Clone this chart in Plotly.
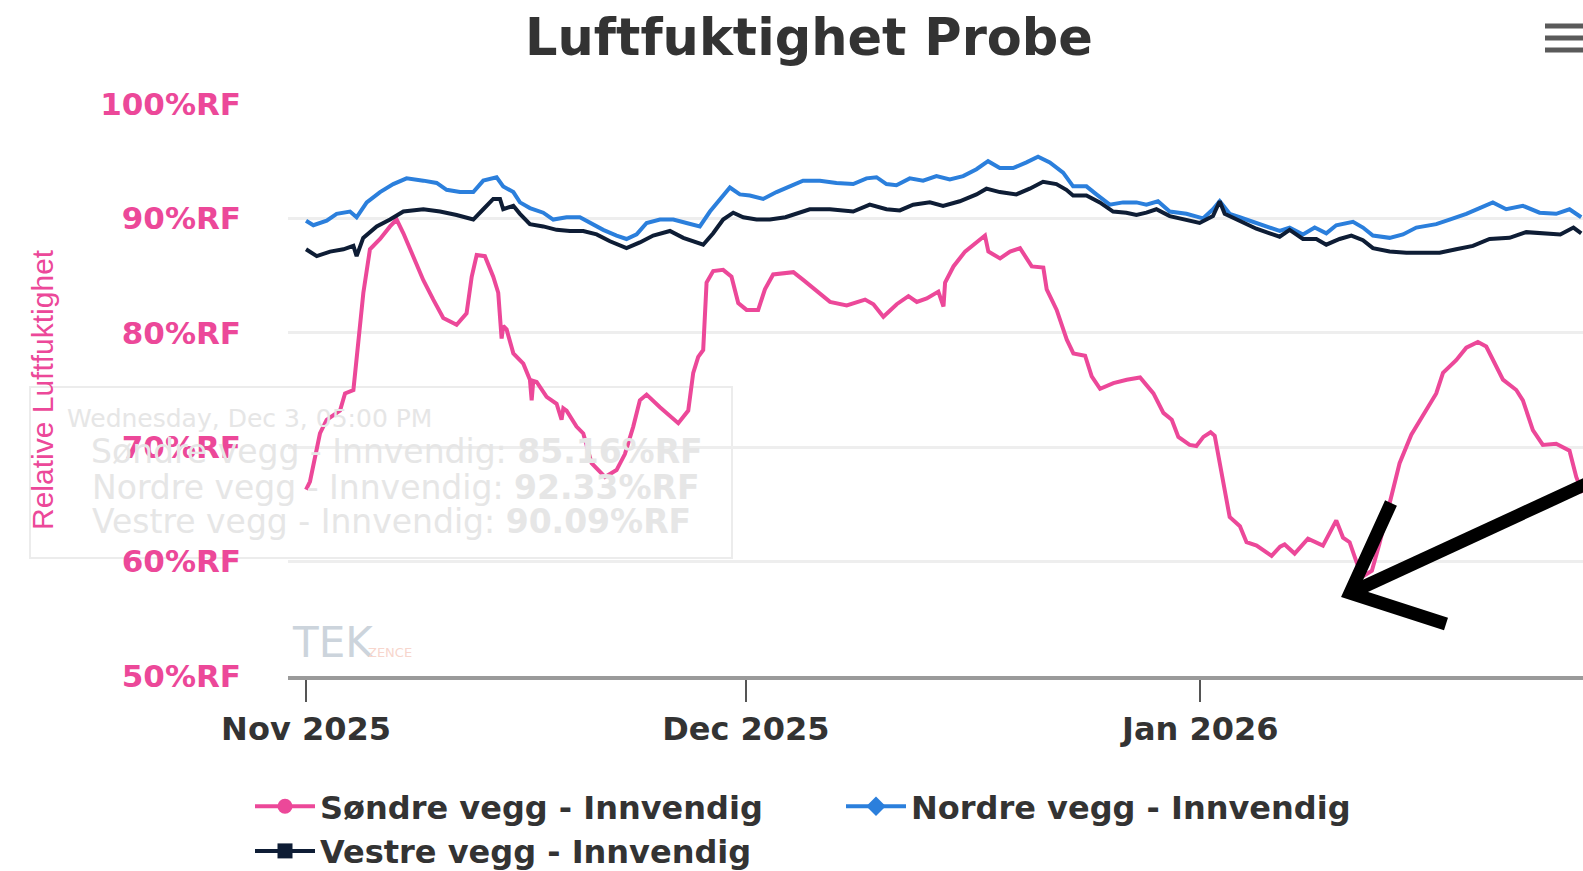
import plotly.graph_objects as go
import pandas as pd

# Luftfuktighet (%RF) pr. probe, lest av grafen. Tid = dager etter 1. nov 2025
start = pd.Timestamp("2025-11-01")

sondre_days = [0.0, 0.27, 0.95, 1.41, 2.32, 2.66, 3.23, 3.57, 3.91, 4.36, 5.05, 5.73, 6.18, 6.64,
               7.32, 8.0, 8.68, 9.36, 10.27, 10.95, 11.3, 11.64, 12.2, 12.77, 13.11, 13.34, 13.45,
               13.68, 14.14, 14.82, 15.27, 15.39, 15.5, 15.73, 16.41, 17.09, 17.43, 17.55, 17.77,
               18.45, 18.91, 19.48, 20.39, 21.18, 21.75, 22.32, 22.77, 23.23, 24.14, 25.39, 26.07,
               26.41, 26.75, 27.09, 27.32, 27.77, 28.45, 29.02, 29.48, 30.05, 30.84, 31.3, 31.86,
               32.7, 33.24, 33.93, 34.61, 35.74, 36.88, 38.13, 38.7, 39.38, 40.29, 41.09, 41.66,
               42.34, 43.13, 43.48, 43.59, 44.16, 44.95, 45.75, 46.31, 46.54, 47.34, 48.02, 48.7,
               49.5, 50.29, 50.52, 51.2, 51.89, 52.34, 53.14, 53.59, 54.16, 55.07, 55.98, 56.89,
               57.8, 58.48, 59.05, 59.5, 60.27, 60.73, 61.21, 61.7, 61.98, 62.12, 62.56, 63.0,
               63.7, 64.15, 64.84, 65.86, 66.44, 66.75, 67.43, 68.34, 69.36, 70.27, 70.73, 71.18,
               71.75, 72.2, 72.7, 73.2, 73.91, 74.59, 75.39, 76.18, 77.09, 77.55, 78.45, 79.14,
               79.93, 80.5, 81.07, 81.64, 82.55, 83.0, 83.68, 84.36, 85.27, 86.18, 86.64, 87.07]
sondre_vals = [66.3, 67.0, 71.2, 72.4, 73.2, 74.7, 75.0, 79.1, 83.5, 87.3, 88.2, 89.3, 89.9, 88.7,
               86.7, 84.6, 82.9, 81.3, 80.7, 81.7, 84.9, 86.8, 86.7, 84.9, 83.5, 79.5, 80.6,
               80.3, 78.2, 77.3, 75.9, 74.1, 75.8, 75.7, 74.4, 73.8, 72.4, 73.4, 73.2,
               71.8, 71.2, 68.6, 67.4, 68.0, 69.4, 71.8, 74.1, 74.6, 73.5, 72.1, 73.2,
               76.5, 77.9, 78.5, 84.4, 85.4, 85.5, 84.9, 82.6, 82.0, 82.0, 83.8, 85.1,
               85.2, 85.3, 84.6, 83.9, 82.7, 82.4, 82.9, 82.5, 81.4, 82.5, 83.2, 82.7,
               83.0, 83.6, 82.3, 84.4, 85.8, 87.1, 87.9, 88.5, 87.1, 86.5, 87.1, 87.4,
               85.8, 85.7, 83.8, 82.0, 79.4, 78.2, 78.0, 76.2, 75.1, 75.6, 75.9, 76.1,
               74.7, 73.0, 72.4, 70.9, 70.2, 70.1, 70.9, 71.3, 71.0, 70.0, 67.0, 63.9,
               63.1, 61.7, 61.4, 60.5, 61.3, 61.5, 60.7, 62.0, 61.4, 63.6, 62.1, 61.7,
               59.6, 58.8, 59.2, 61.5, 65.1, 68.6, 71.1, 72.7, 74.7, 76.5, 77.6, 78.7,
               79.2, 78.8, 77.3, 75.9, 75.0, 74.1, 71.5, 70.2, 70.3, 69.7, 67.4, 66.0]

nordre_days = [0.0, 0.5, 1.41, 2.09, 3.0, 3.45, 4.14, 5.05, 5.95, 6.86, 8.0, 8.91, 9.59, 10.5,
               11.41, 12.09, 13.0, 13.45, 14.14, 14.59, 15.27, 16.18, 16.86, 17.77, 18.68, 19.36,
               20.27, 21.18, 21.86, 22.55, 23.23, 24.14, 25.05, 25.95, 26.86, 27.55, 28.23, 28.91,
               29.59, 30.27, 31.18, 32.09, 33.0, 33.9, 35.05, 36.18, 37.32, 38.23, 38.91, 39.59,
               40.27, 41.18, 42.09, 43.0, 43.91, 44.82, 45.73, 46.52, 47.32, 48.23, 49.14, 49.93,
               50.73, 51.64, 52.32, 53.23, 53.91, 54.82, 55.73, 56.64, 57.32, 58.11, 58.91, 60.05,
               61.18, 61.86, 62.32, 63.0, 63.68, 64.82, 65.73, 66.41, 67.09, 68.0, 68.8, 69.59,
               70.27, 71.41, 72.09, 72.77, 73.91, 74.82, 75.73, 77.09, 78.0, 79.14, 80.05, 80.95,
               81.86, 83.0, 84.14, 85.27, 86.18, 86.98]
nordre_vals = [89.8, 89.4, 89.8, 90.4, 90.6, 90.1, 91.4, 92.3, 93.0, 93.5, 93.3, 93.1, 92.5, 92.3,
               92.3, 93.3, 93.6, 92.8, 92.3, 91.4, 90.9, 90.5, 89.9, 90.1, 90.1, 89.6,
               89.0, 88.5, 88.2, 88.6, 89.6, 89.9, 89.9, 89.6, 89.3, 90.6, 91.7, 92.7,
               92.1, 92.0, 91.7, 92.3, 92.8, 93.3, 93.3, 93.1, 93.0, 93.5, 93.6, 93.0,
               92.9, 93.5, 93.3, 93.7, 93.4, 93.7, 94.3, 95.0, 94.4, 94.4, 94.9, 95.4,
               94.9, 94.0, 92.8, 92.8, 92.1, 91.2, 91.4, 91.4, 91.2, 91.5, 90.6, 90.4,
               90.0, 90.8, 91.5, 90.4, 90.1, 89.6, 89.2, 88.9, 89.2, 88.6, 89.2, 88.7,
               89.4, 89.7, 89.2, 88.5, 88.3, 88.6, 89.2, 89.5, 89.9, 90.4, 90.9, 91.4,
               90.8, 91.1, 90.5, 90.4, 90.8, 90.1]

vestre_days = [0.0, 0.73, 1.64, 2.55, 3.23, 3.45, 3.9, 4.82, 5.73, 6.64, 8.0, 9.14, 10.27, 11.41,
               12.09, 12.77, 13.23, 13.45, 14.14, 14.59, 15.27, 16.18, 17.09, 18.0, 18.91, 19.82,
               20.73, 21.86, 22.77, 23.68, 24.82, 25.73, 27.09, 27.77, 28.45, 29.14, 29.82, 30.73,
               31.64, 32.7, 34.36, 35.73, 37.32, 38.45, 39.59, 40.5, 41.41, 42.55, 43.45, 44.59,
               45.73, 46.41, 47.32, 48.45, 49.36, 50.27, 51.18, 51.86, 52.32, 53.23, 54.14, 55.05,
               55.95, 56.64, 57.32, 58.0, 58.91, 59.82, 60.95, 61.86, 62.32, 62.66, 63.91, 64.82,
               65.73, 66.41, 67.09, 68.0, 68.91, 69.59, 70.5, 71.3, 72.09, 72.77, 73.91, 75.05,
               76.18, 77.32, 78.45, 79.59, 80.73, 82.09, 83.23, 84.41, 85.55, 86.45, 86.98]
vestre_vals = [87.3, 86.7, 87.1, 87.3, 87.6, 86.7, 88.3, 89.3, 89.9, 90.6, 90.8, 90.6, 90.3, 89.9,
               90.8, 91.7, 91.7, 90.8, 91.1, 90.4, 89.5, 89.3, 89.0, 88.9, 88.9, 88.6,
               88.0, 87.4, 87.9, 88.5, 88.9, 88.3, 87.7, 88.7, 89.9, 90.5, 90.1, 89.9,
               89.9, 90.1, 90.8, 90.8, 90.6, 91.2, 90.8, 90.7, 91.2, 91.4, 91.1, 91.5,
               92.1, 92.6, 92.3, 92.1, 92.6, 93.2, 93.0, 92.5, 92.0, 92.0, 91.4, 90.6,
               90.5, 90.3, 90.5, 90.8, 90.2, 89.9, 89.6, 90.2, 91.5, 90.4, 89.6, 89.1,
               88.7, 88.4, 89.0, 88.2, 88.2, 87.7, 88.2, 88.5, 88.1, 87.4, 87.1, 87.0,
               87.0, 87.0, 87.3, 87.6, 88.2, 88.3, 88.8, 88.7, 88.6, 89.2, 88.7]

series_names = ["Søndre vegg - Innvendig", "Nordre vegg - Innvendig", "Vestre vegg - Innvendig"]
series_colors = ["#ec4899", "#2b7fdc", "#0e1d35"]
series_symbols = ["circle", "diamond", "square"]

y_ticks = [50, 60, 70, 80, 90, 100]
y_labels = [f"{v}%RF" for v in y_ticks]

# tooltip-tekst som ligger igjen i skjermbildet
tooltip_date = "Wednesday, Dec 3, 05:00 PM"
tooltip_vals = ["85.16", "92.33", "90.09"]


def to_time(days):
    return start + pd.to_timedelta(days, unit="D")


fig = go.Figure()

all_days = [sondre_days, nordre_days, vestre_days]
all_vals = [sondre_vals, nordre_vals, vestre_vals]
for name, color, days, vals in zip(series_names, series_colors, all_days, all_vals):
    fig.add_trace(go.Scatter(
        x=to_time(days), y=vals, mode="lines", name=name,
        line=dict(color=color, width=4), showlegend=False,
    ))

# legend-oppføringer med markør (som i originalen)
for name, color, sym in zip(series_names, series_colors, series_symbols):
    fig.add_trace(go.Scatter(
        x=[None], y=[None], mode="lines+markers", name=name,
        line=dict(color=color, width=4),
        marker=dict(color=color, symbol=sym, size=15),
    ))

# --- plassering i piksler -> paper-koordinater ---
L, R, T, B = 288, 0, 104, 195
W, H = 1583, 871
pw, ph = W - L - R, H - T - B


def px(x):
    return (x - L) / pw


def py(y):
    return (H - B - y) / ph


shapes = []
# tooltip-boks (svak)
shapes.append(dict(type="rect", xref="paper", yref="paper",
                   x0=px(30), x1=px(732), y0=py(558), y1=py(387),
                   fillcolor="white", line=dict(color="#ececec", width=2), layer="below"))
# hamburger-meny
for yy in [26, 38, 50]:
    shapes.append(dict(type="line", xref="paper", yref="paper",
                       x0=px(1545), x1=px(1590), y0=py(yy), y1=py(yy),
                       line=dict(color="#5a5a5a", width=5)))
# svart pil
shapes.append(dict(type="path", xref="paper", yref="paper",
                   path=f"M {px(1391)},{py(503)} L {px(1350)},{py(593)} L {px(1446)},{py(624)}",
                   line=dict(color="black", width=13)))
shapes.append(dict(type="line", xref="paper", yref="paper",
                   x0=px(1350), y0=py(593), x1=px(1610), y1=py(473),
                   line=dict(color="black", width=13)))

annotations = [
    dict(text="Relative Luftfuktighet", textangle=-90, xref="paper", yref="paper",
         x=px(42), y=0.5, showarrow=False, xanchor="center", yanchor="middle",
         font=dict(family="Liberation Sans", size=30, color="#ec4899")),
    dict(text=tooltip_date, xref="paper", yref="paper", x=px(434), y=py(418),
         xanchor="right", yanchor="middle", showarrow=False,
         font=dict(family="DejaVu Sans", size=25, color="#e6e6e6")),
    dict(text="TEK", xref="paper", yref="paper", x=px(290), y=py(642),
         xanchor="left", yanchor="middle", showarrow=False,
         font=dict(family="DejaVu Sans", size=42, color="#ccd4dc")),
    dict(text="ZENCE", xref="paper", yref="paper", x=px(366), y=py(652),
         xanchor="left", yanchor="middle", showarrow=False,
         font=dict(family="DejaVu Sans", size=13, color="#f7d6cd")),
]
line_ends = [705, 701, 693]
line_ys = [451, 487, 521]
for name, val, xe, yy in zip(series_names, tooltip_vals, line_ends, line_ys):
    annotations.append(dict(
        text=f"{name}: <b>{val}%RF</b>", xref="paper", yref="paper", x=px(xe), y=py(yy),
        xanchor="right", yanchor="middle", showarrow=False,
        font=dict(family="DejaVu Sans", size=33, color="#e6e6e6")))

fig.update_layout(
    width=W, height=H,
    margin=dict(l=L, r=R, t=T, b=B, autoexpand=False),
    paper_bgcolor="white", plot_bgcolor="white",
    title=dict(text="Luftfuktighet Probe", x=809 / W, xref="container", xanchor="center",
               y=1 - 37 / H, yref="container", yanchor="middle",
               font=dict(family="DejaVu Sans", size=51, weight="bold", color="#333333")),
    xaxis=dict(
        range=[to_time(-1.23), to_time(87.1)],
        tickformat="%b %Y", dtick="M1", tick0="2025-11-01",
        showgrid=False, zeroline=False,
        showline=True, linecolor="#9a9a9a", linewidth=4,
        ticks="outside", ticklen=22, tickwidth=2, tickcolor="#555555",
        ticklabelstandoff=0,
        tickfont=dict(family="DejaVu Sans", size=32, weight="bold", color="#333333"),
        automargin=False,
    ),
    yaxis=dict(
        range=[50, 100], tickmode="array", tickvals=y_ticks, ticktext=y_labels,
        showgrid=True, gridcolor="#eeeeee", gridwidth=3, zeroline=False, showline=False,
        ticklabelstandoff=46,
        tickfont=dict(family="DejaVu Sans", size=31, weight="bold", color="#ec4899"),
        automargin=False,
    ),
    legend=dict(orientation="h", xref="container", yref="container",
                x=250 / W, y=1 - 779 / H, xanchor="left", yanchor="top",
                entrywidth=516, itemwidth=60,
                font=dict(family="DejaVu Sans", size=32, weight="bold", color="#333333")),
    shapes=shapes,
    annotations=annotations,
    hovermode=False,
)

fig.write_html("out.html", config={"displayModeBar": False},
               post_script="document.body.style.margin='0';document.body.style.overflow='hidden';")
